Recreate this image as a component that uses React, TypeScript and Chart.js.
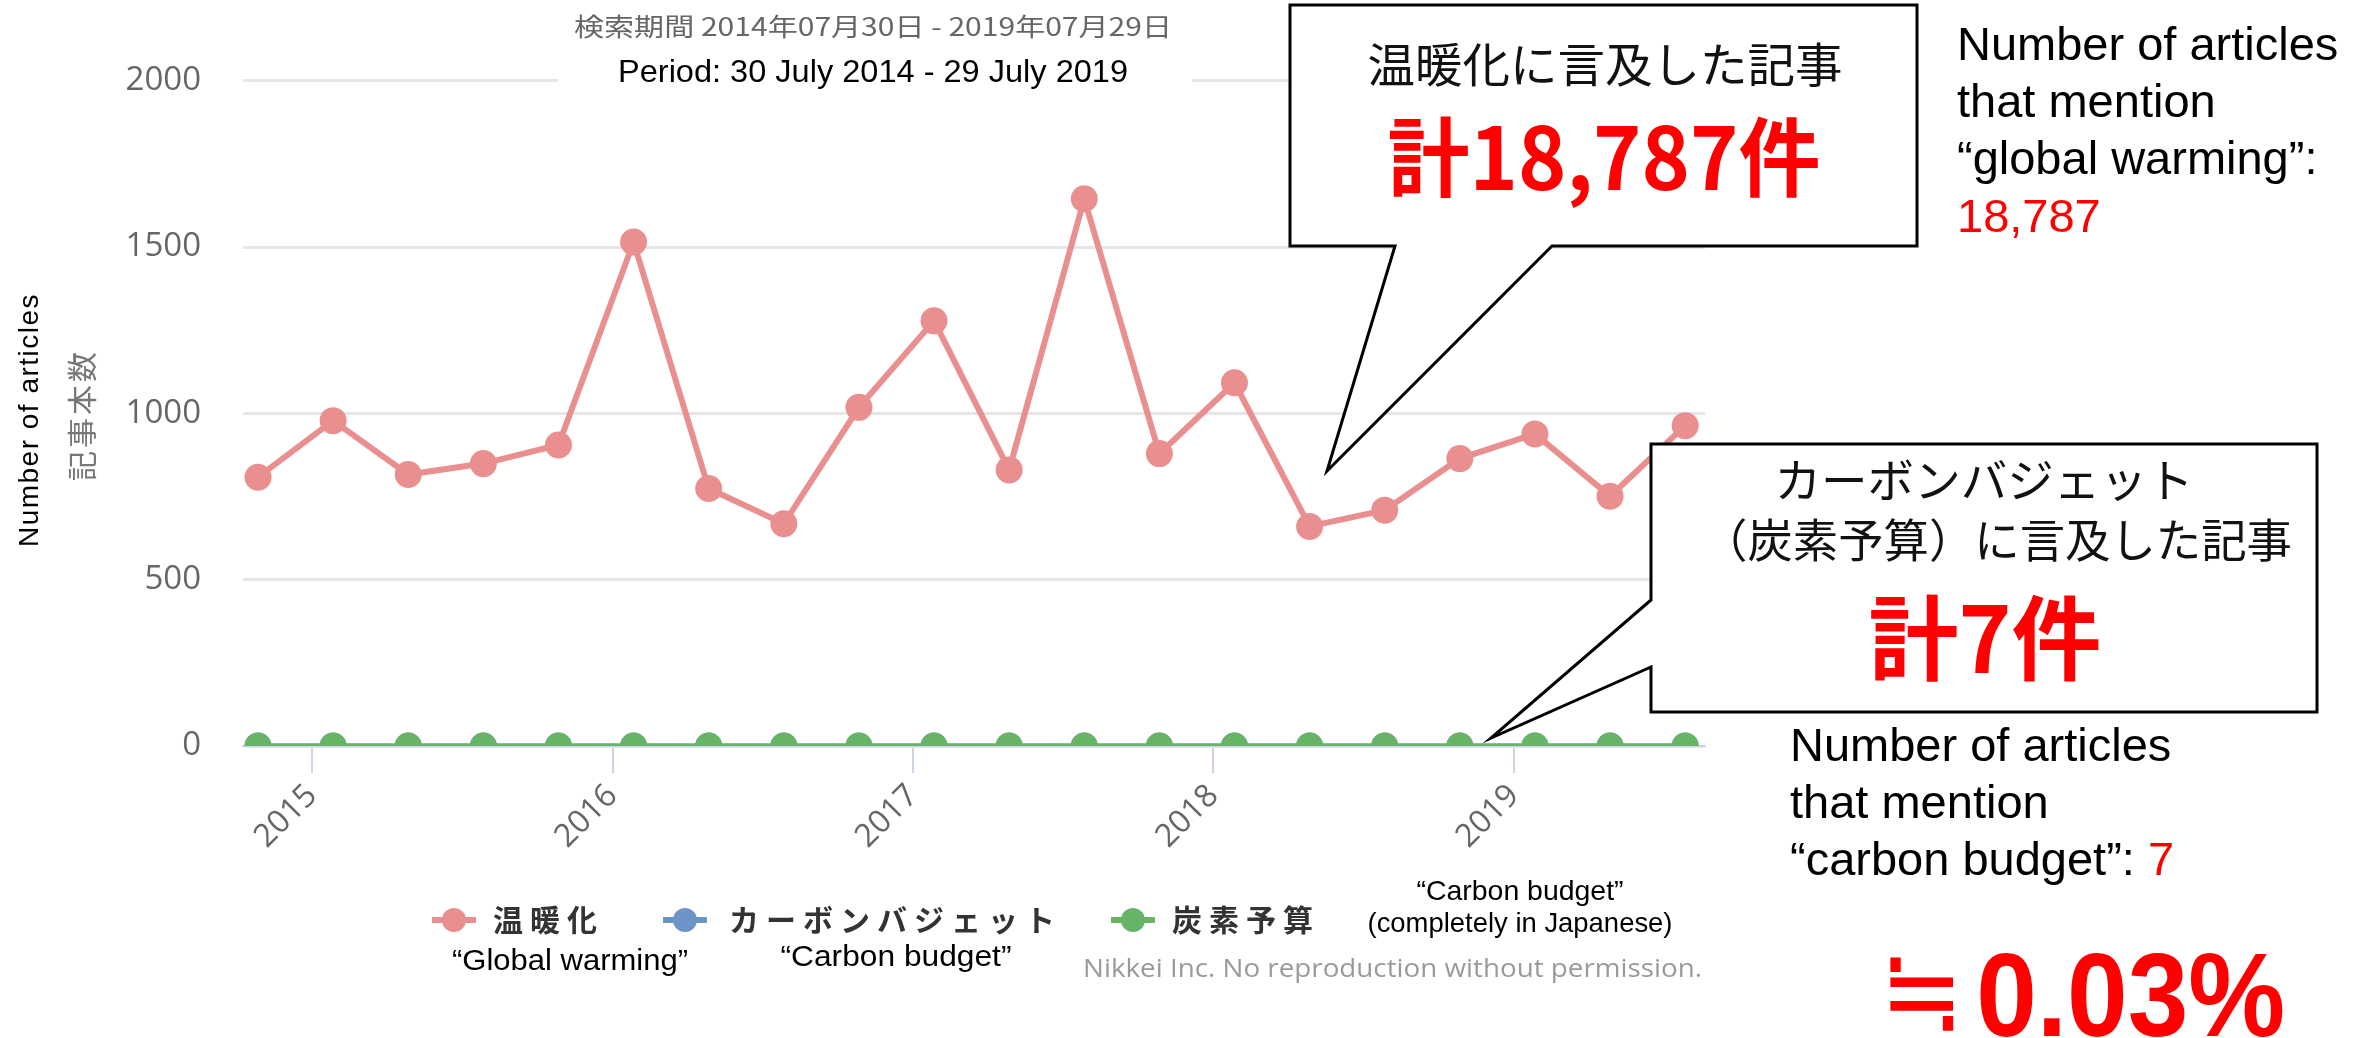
import React, { useEffect, useRef } from "react";
import { Chart, registerables } from "chart.js";

Chart.register(...registerables);

// ---- data ----
const periodX = [
  2014.82, 2015.07, 2015.32, 2015.57, 2015.82, 2016.07, 2016.32, 2016.57, 2016.82, 2017.07,
  2017.32, 2017.57, 2017.82, 2018.07, 2018.32, 2018.57, 2018.82, 2019.07, 2019.32, 2019.57,
];
const globalWarming = [808, 978, 816, 849, 905, 1515, 774, 668, 1018, 1278, 830, 1645, 879, 1092, 660, 709, 864, 938, 751, 963];
const carbonBudgetKatakana = [0, 0, 0, 0, 0, 0, 0, 0, 0, 0, 0, 0, 0, 0, 0, 0, 0, 0, 0, 0];
const carbonBudgetKanji = [0, 0, 0, 0, 0, 0, 0, 0, 0, 0, 0, 0, 0, 0, 0, 0, 0, 0, 0, 0];
const seriesNames = ["温暖化", "カーボンバジェット", "炭素予算"];
const seriesColors = ["#e98f8f", "#6d94c7", "#67b467"];
const yearTicks = [2015, 2016, 2017, 2018, 2019];
const yTickValues = [0, 500, 1000, 1500, 2000];

// ---- text ----
const TITLE_JA = "検索期間 2014年07月30日 - 2019年07月29日";
const TITLE_EN = "Period: 30 July 2014 - 29 July 2019";
const Y_TITLE_EN = "Number of articles";
const Y_TITLE_JA = "記事本数";
const LEGEND_NOTES = ["“Global warming”", "“Carbon budget”"];
const NOTE_KANJI = ["“Carbon budget”", "(completely in Japanese)"];
const CREDIT = "Nikkei Inc. No reproduction without permission.";
const CALLOUT1 = ["温暖化に言及した記事", "計18,787件"];
const CALLOUT2 = ["カーボンバジェット", "（炭素予算）に言及した記事", "計7件"];
const SIDE1 = ["Number of articles", "that mention", "“global warming”:", "18,787"];
const SIDE2 = ["Number of articles", "that mention", "“carbon budget”: ", "7"];
const RATIO_SIGN = "≒";
const RATIO_VALUE = "0.03%";

const W = 2374;
const H = 1038;

function fitText(
  ctx: CanvasRenderingContext2D,
  text: string,
  x: number,
  y: number,
  font: string,
  color: string,
  align: CanvasTextAlign,
  width?: number,
  baseline: CanvasTextBaseline = "alphabetic"
) {
  ctx.save();
  ctx.font = font;
  ctx.fillStyle = color;
  ctx.textAlign = align;
  ctx.textBaseline = baseline;
  const w = ctx.measureText(text).width;
  const s = width ? width / w : 1;
  ctx.translate(x, y);
  ctx.scale(s, 1);
  ctx.fillText(text, 0, 0);
  ctx.restore();
}

// draw text so that its ink box fills the given rectangle
function boxText(
  ctx: CanvasRenderingContext2D,
  text: string,
  x0: number,
  y0: number,
  x1: number,
  y1: number,
  font: string,
  color: string
) {
  ctx.save();
  ctx.font = font;
  ctx.fillStyle = color;
  ctx.textAlign = "left";
  ctx.textBaseline = "alphabetic";
  const m = ctx.measureText(text);
  const left = -m.actualBoundingBoxLeft;
  const right = m.actualBoundingBoxRight;
  const top = -m.actualBoundingBoxAscent;
  const bottom = m.actualBoundingBoxDescent;
  const sx = (x1 - x0) / (right - left);
  const sy = (y1 - y0) / (bottom - top);
  ctx.translate(x0, y0);
  ctx.scale(sx, sy);
  ctx.fillText(text, -left, -top);
  ctx.restore();
}

function callout(ctx: CanvasRenderingContext2D, pts: number[][]) {
  ctx.save();
  ctx.beginPath();
  ctx.moveTo(pts[0][0], pts[0][1]);
  for (let i = 1; i < pts.length; i++) ctx.lineTo(pts[i][0], pts[i][1]);
  ctx.closePath();
  ctx.fillStyle = "#ffffff";
  ctx.fill();
  ctx.lineWidth = 3;
  ctx.strokeStyle = "#000000";
  ctx.lineJoin = "miter";
  ctx.stroke();
  ctx.restore();
}

const overlayPlugin = {
  id: "overlay",
  afterDraw(chart: any) {
    const ctx: CanvasRenderingContext2D = chart.ctx;
    ctx.save();

    // titles
    ctx.fillStyle = "#ffffff";
    ctx.fillRect(558, 48, 634, 50);
    fitText(ctx, TITLE_JA, 873, 26, '25px "Noto Sans CJK JP"', "#666666", "center", 598, "middle");
    fitText(ctx, TITLE_EN, 873, 82, '32px "Liberation Sans"', "#000000", "center", 510);

    // y axis titles
    ctx.save();
    ctx.translate(30, 420);
    ctx.rotate(-Math.PI / 2);
    ctx.font = '28px "Liberation Sans"';
    (ctx as any).letterSpacing = "1.5px";
    ctx.fillStyle = "#000000";
    ctx.textAlign = "center";
    ctx.textBaseline = "middle";
    ctx.fillText(Y_TITLE_EN, 0, 0);
    ctx.restore();
    ctx.save();
    ctx.translate(82, 415);
    ctx.rotate(-Math.PI / 2);
    ctx.font = '30px "Noto Sans CJK JP"';
    (ctx as any).letterSpacing = "3px";
    ctx.fillStyle = "#777777";
    ctx.textAlign = "center";
    ctx.textBaseline = "middle";
    ctx.fillText(Y_TITLE_JA, 0, 0);
    ctx.restore();

    // legend
    const legendPos = [
      [454, 493],
      [685, 729],
      [1133, 1172],
    ];
    const ly = 920;
    seriesNames.forEach((name, i) => {
      const [cx, tx] = legendPos[i];
      ctx.save();
      ctx.strokeStyle = seriesColors[i];
      ctx.lineWidth = 6;
      ctx.beginPath();
      ctx.moveTo(cx - 22, ly);
      ctx.lineTo(cx + 22, ly);
      ctx.stroke();
      ctx.fillStyle = seriesColors[i];
      ctx.beginPath();
      ctx.arc(cx, ly, 12, 0, Math.PI * 2);
      ctx.fill();
      ctx.font = 'bold 30px "Noto Sans CJK JP"';
      (ctx as any).letterSpacing = "7px";
      ctx.fillStyle = "#333333";
      ctx.textAlign = "left";
      ctx.textBaseline = "middle";
      ctx.fillText(name, tx, ly);
      ctx.restore();
    });

    // notes
    fitText(ctx, LEGEND_NOTES[0], 570, 970, '29px "Liberation Sans"', "#000000", "center", 236);
    fitText(ctx, LEGEND_NOTES[1], 896, 966, '29px "Liberation Sans"', "#000000", "center", 231);
    fitText(ctx, NOTE_KANJI[0], 1520, 900, '28px "Liberation Sans"', "#000000", "center", 207);
    fitText(ctx, NOTE_KANJI[1], 1520, 932, '28px "Liberation Sans"', "#000000", "center", 305);
    fitText(ctx, CREDIT, 1083, 977, '26px "Open Sans"', "#9a9a9a", "left", 619);

    // callout 1
    callout(ctx, [
      [1290, 5],
      [1917, 5],
      [1917, 246],
      [1552, 246],
      [1327, 471],
      [1395, 246],
      [1290, 246],
    ]);
    fitText(ctx, CALLOUT1[0], 1605, 64, '47px "Noto Sans CJK JP"', "#111111", "center", 475, "middle");
    fitText(ctx, CALLOUT1[1], 1604, 157, 'bold 86px "Noto Sans CJK JP"', "#ff0000", "center", 433, "middle");

    // callout 2
    callout(ctx, [
      [1651, 444],
      [2317, 444],
      [2317, 712],
      [1651, 712],
      [1651, 667],
      [1491, 738],
      [1651, 600],
    ]);
    fitText(ctx, CALLOUT2[0], 1984, 480, '46px "Noto Sans CJK JP"', "#111111", "center", 419, "middle");
    fitText(ctx, CALLOUT2[1], 1997, 540, '46px "Noto Sans CJK JP"', "#111111", "center", 590, "middle");
    fitText(ctx, CALLOUT2[2], 1985, 638, 'bold 92px "Noto Sans CJK JP"', "#ff0000", "center", 233, "middle");

    // side texts
    const sideFont = '47px "Liberation Sans"';
    fitText(ctx, SIDE1[0], 1957, 60, sideFont, "#000000", "left");
    fitText(ctx, SIDE1[1], 1957, 117, sideFont, "#000000", "left");
    fitText(ctx, SIDE1[2], 1957, 174, sideFont, "#000000", "left");
    fitText(ctx, SIDE1[3], 1957, 232, sideFont, "#ff0000", "left");

    fitText(ctx, SIDE2[0], 1790, 761, sideFont, "#000000", "left");
    fitText(ctx, SIDE2[1], 1790, 818, sideFont, "#000000", "left");
    fitText(ctx, SIDE2[2], 1790, 875, sideFont, "#000000", "left");
    ctx.font = sideFont;
    const w2 = ctx.measureText(SIDE2[2]).width;
    fitText(ctx, SIDE2[3], 1790 + w2, 875, sideFont, "#ff0000", "left");

    boxText(ctx, RATIO_SIGN, 1890, 957, 1954, 1031, '100px "DejaVu Sans"', "#ff0000");
    boxText(ctx, RATIO_VALUE, 1980, 953, 2283, 1037, 'bold 114px "Liberation Sans"', "#ff0000");

    ctx.restore();
  },
};

export default function App() {
  const canvasRef = useRef<HTMLCanvasElement | null>(null);

  useEffect(() => {
    const canvas = canvasRef.current;
    if (!canvas) return;
    const toPoints = (vals: number[]) => periodX.map((x, i) => ({ x, y: vals[i] }));
    const chart = new Chart(canvas, {
      type: "line",
      data: {
        datasets: [
          {
            label: seriesNames[0],
            data: toPoints(globalWarming),
            borderColor: seriesColors[0],
            backgroundColor: seriesColors[0],
            pointBackgroundColor: seriesColors[0],
            borderWidth: 6,
            pointRadius: 13.5,
            pointBorderWidth: 0,
            tension: 0,
            order: 0,
          },
          {
            label: seriesNames[1],
            data: toPoints(carbonBudgetKatakana),
            borderColor: seriesColors[1],
            backgroundColor: seriesColors[1],
            pointBackgroundColor: seriesColors[1],
            borderWidth: 5,
            pointRadius: 13.5,
            pointBorderWidth: 0,
            tension: 0,
            order: 2,
          },
          {
            label: seriesNames[2],
            data: toPoints(carbonBudgetKanji),
            borderColor: seriesColors[2],
            backgroundColor: seriesColors[2],
            pointBackgroundColor: seriesColors[2],
            borderWidth: 5,
            pointRadius: 13.5,
            pointBorderWidth: 0,
            tension: 0,
            order: 1,
          },
        ],
      },
      options: {
        responsive: false,
        animation: false,
        devicePixelRatio: 1,
        layout: { padding: { left: 0, right: W - 1705, top: 80.7, bottom: 0 } },
        plugins: {
          legend: { display: false },
          tooltip: { enabled: false },
          title: { display: false },
        },
        scales: {
          x: {
            type: "linear",
            min: 2014.77,
            max: 2019.636,
            afterBuildTicks: (s: any) => {
              s.ticks = yearTicks.map((v) => ({ value: v }));
            },
            afterFit: (s: any) => {
              s.height = H - 746;
            },
            ticks: {
              callback: (v: any) => String(v),
              autoSkip: false,
              maxRotation: 45,
              minRotation: 45,
              padding: 4,
              color: "#666666",
              font: { family: "'Open Sans'", size: 32 },
            },
            grid: {
              drawOnChartArea: false,
              drawTicks: true,
              tickLength: 27,
              color: "#ccd6eb",
              lineWidth: 2,
            },
            border: { display: true, color: "#ccd6eb", width: 2 },
          },
          y: {
            type: "linear",
            min: 0,
            max: 2000,
            afterBuildTicks: (s: any) => {
              s.ticks = yTickValues.map((v) => ({ value: v }));
            },
            afterFit: (s: any) => {
              s.width = 243;
            },
            ticks: {
              callback: (v: any) => String(v),
              padding: 42,
              color: "#666666",
              font: { family: "'Open Sans'", size: 33 },
            },
            grid: { color: "#e6e6e6", lineWidth: 3, drawTicks: false },
            border: { display: false },
          },
        },
      },
      plugins: [overlayPlugin],
    } as any);
    return () => chart.destroy();
  }, []);

  return (
    <div style={{ position: "absolute", left: 0, top: 0, width: W, height: H, background: "#ffffff" }}>
      <canvas ref={canvasRef} width={W} height={H} style={{ display: "block", width: W, height: H }} />
    </div>
  );
}
